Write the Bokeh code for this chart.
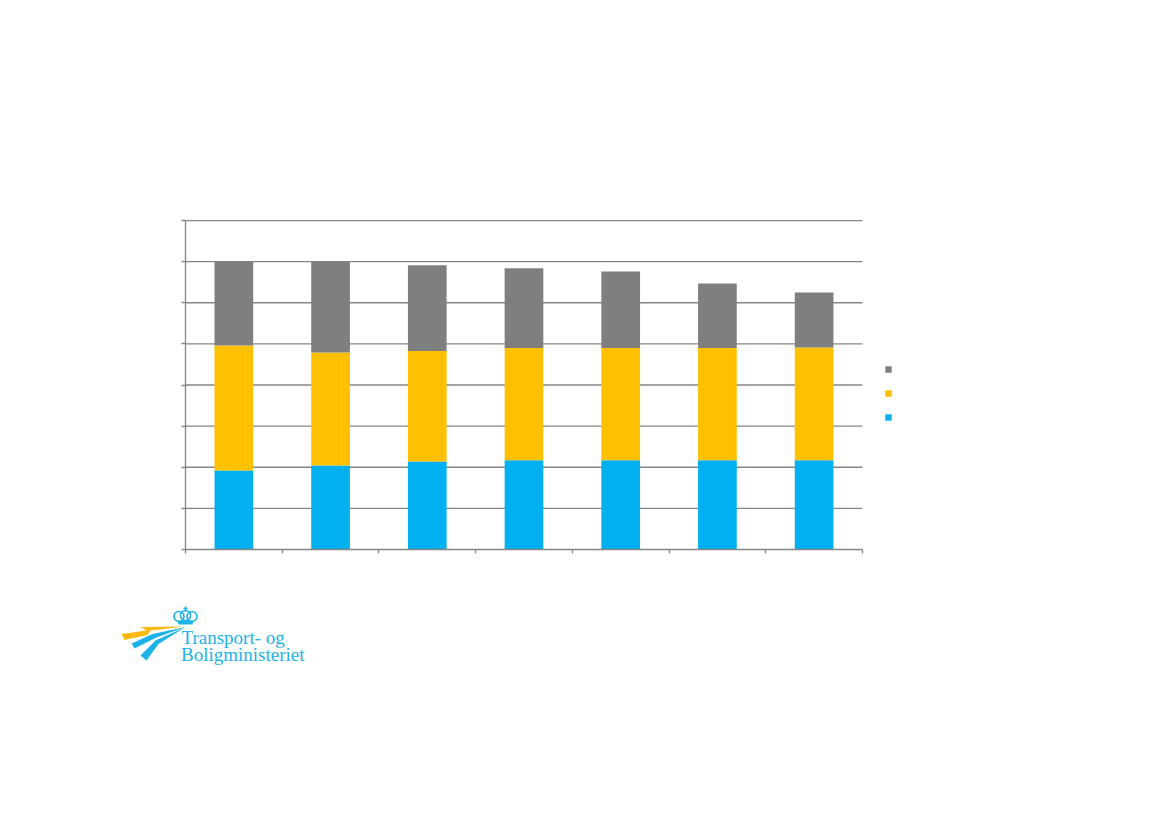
from bokeh.plotting import figure
from bokeh.layouts import column
from bokeh.models import Range1d, FixedTicker, Legend, LegendItem
from bokeh.embed import file_html
from bokeh.resources import INLINE
from bokeh.core.properties import value

positions = [0.5, 1.5, 2.5, 3.5, 4.5, 5.5, 6.5]
blue = [1.92, 2.04, 2.14, 2.17, 2.17, 2.17, 2.17]
yellow = [3.04, 2.75, 2.69, 2.73, 2.73, 2.73, 2.74]
gray = [2.04, 2.21, 2.08, 1.94, 1.86, 1.57, 1.34]
gridlines = [1, 2, 3, 4, 5, 6, 7, 8]
colors = ["#00B0F0", "#FFC000", "#7F7F7F"]
GRID = "#868686"
LW = 1.3
N = len(positions)

p = figure(width=1161, height=598, output_backend="svg", toolbar_location=None,
           x_range=Range1d(0, 10.092), y_range=Range1d(0, 8.025),
           min_border_left=185, min_border_right=0, min_border_top=219, min_border_bottom=49,
           outline_line_color=None, background_fill_color=None, border_fill_color=None)
p.frame_align = False
p.segment(x0=[0] * len(gridlines), x1=[N] * len(gridlines), y0=gridlines, y1=gridlines,
          line_color=GRID, line_width=LW, level="underlay")
src = dict(x=positions, blue=blue, yellow=yellow, gray=gray)
rs = p.vbar_stack(["blue", "yellow", "gray"], x="x", width=0.4, color=colors, source=src, line_color=None)

p.xaxis.ticker = FixedTicker(ticks=list(range(N + 1)))
p.xaxis.bounds = (0, N)
p.yaxis.ticker = FixedTicker(ticks=list(range(9)))
p.yaxis.bounds = (0, 8)
for ax in (p.xaxis[0], p.yaxis[0]):
    ax.major_label_text_font_size = "0px"
    ax.major_label_text_color = None
    ax.axis_line_color = GRID
    ax.axis_line_width = LW
    ax.major_tick_line_color = GRID
    ax.major_tick_line_width = LW
    ax.major_tick_in = 0
    ax.major_tick_out = 4
    ax.minor_tick_line_color = None
p.grid.visible = False

legend = Legend(items=[LegendItem(label=value(" "), renderers=[rs[2]]),
                       LegendItem(label=value(" "), renderers=[rs[1]]),
                       LegendItem(label=value(" "), renderers=[rs[0]])],
                location=(699, 128), glyph_width=8, glyph_height=8, spacing=16,
                padding=0, margin=0, border_line_color=None, background_fill_color=None,
                label_height=7, label_standoff=0, label_width=0, label_text_font_size="7px")
p.add_layout(legend, "center")

# Logo panel: page-pixel coordinates
logo = figure(width=1161, height=90, output_backend="svg", toolbar_location=None,
              x_range=Range1d(0, 1161), y_range=Range1d(688, 598),
              min_border=0, outline_line_color=None, background_fill_color=None, border_fill_color=None)
logo.frame_align = False
logo.axis.visible = False
logo.grid.visible = False
LB = "#1DB3E8"
logo.patch([121, 146, 140, 185, 150, 147, 124], [633.5, 630, 626.5, 626, 630, 634.5, 639.5], color="#FDB913", line_color=None)
logo.patch([131, 152, 185, 156, 134], [643, 633.5, 626.5, 637, 648], color=LB, line_color=None)
logo.patch([140, 155, 185, 158, 146], [655, 640, 626.5, 643.5, 660], color=LB, line_color=None)
# crown
logo.scatter([178.5, 185, 191.5], [616, 615, 616], size=10, fill_color=None, line_color=LB, line_width=1.6)
logo.patch([177, 193, 192, 178], [620, 620, 624, 624], color=LB, line_color=None)
logo.line([185, 185], [606, 611], color=LB, line_width=1.5)
logo.line([183, 187], [608, 608], color=LB, line_width=1.5)
logo.text([181, 180.5], [637, 654], text=["Transport- og", "Boligministeriet"], text_color=LB,
          text_font=value("Liberation Serif"), text_font_size="19px", text_baseline="alphabetic")

open("out.html", "w").write(file_html(column(p, logo, spacing=0), INLINE))
